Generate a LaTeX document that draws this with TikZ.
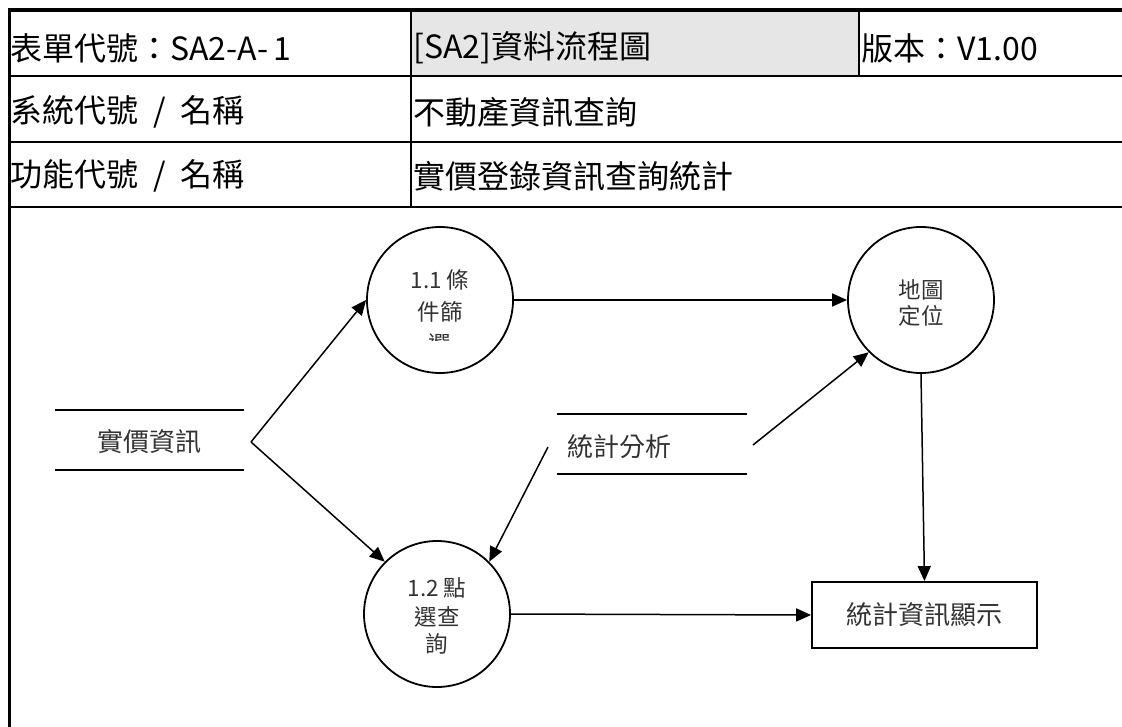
\documentclass[tikz,border=0pt]{standalone}
\usepackage{fontspec}
\setmainfont{Noto Sans CJK TC}
\usetikzlibrary{arrows.meta}
\definecolor{cellgrey}{HTML}{E6E6E6}
\definecolor{txtgrey}{HTML}{333333}
\tikzset{
  frame/.style={line width=2pt, black},
  hdr/.style={anchor=west, inner sep=0pt, font=\fontsize{32}{36}\selectfont, text=black},
  proc/.style={circle, draw, line width=1.8pt, minimum size=146pt, inner sep=0pt},
  ptext/.style={inner sep=0pt, font=\fontsize{22.5}{26}\selectfont, text=txtgrey},
  stext/.style={inner sep=0pt, font=\fontsize{26}{30}\selectfont, text=txtgrey},
  storeline/.style={line width=1.8pt},
  flow/.style={line width=1.5pt, -{Triangle[length=15pt,width=13pt]}},
  outbox/.style={draw, line width=1.8pt, minimum width=225pt, minimum height=66pt, inner sep=0pt, font=\fontsize{26}{30}\selectfont, text=txtgrey}
}
\begin{document}
\begin{tikzpicture}[x=1pt,y=-1pt]
\useasboundingbox (0,0) rectangle (1122,727);
% header table
\fill[cellgrey] (412,11) rectangle (858,75);
\draw[line width=3.5pt] (7.5,10) -- (1122,10);
\draw[line width=3pt] (9,8.5) -- (9,727);
\draw[frame] (9,76) -- (1122,76);
\draw[frame] (9,142) -- (1122,142);
\draw[frame] (9,207) -- (1122,207);
\draw[frame] (411,10) -- (411,207);
\draw[frame] (859,10) -- (859,76);
\node[hdr] (h1) at (10,48) {表單代號：SA2-A-\,1};
\node[hdr] (h2) at (413,48) {[SA2]資料流程圖};
\node[hdr] (h3) at (861,48) {版本：V1.00};
\node[hdr] (h4) at (10,112) {系統代號\hspace{15pt}/\hspace{15pt}名稱};
\node[hdr] (h5) at (413,112) {不動產資訊查詢};
\node[hdr] (h6) at (10,176) {功能代號\hspace{15pt}/\hspace{15pt}名稱};
\node[hdr] (h7) at (413,176) {實價登錄資訊查詢統計};
% processes
\node[proc] (c11) at (440,300) {};
\node[ptext] (t11a) at (440,280) {1.1 條};
\node[ptext] (t11b) at (440,312) {件篩};
\begin{scope}
\clip (380,300) rectangle (500,341);
\node[ptext] (t11c) at (440,344) {選};
\end{scope}
\node[proc] (c21) at (921,300) {};
\node[ptext] (t21a) at (921,290) {地圖};
\node[ptext] (t21b) at (921,316) {定位};
\node[proc] (c12) at (437,614) {};
\node[ptext] (t12a) at (437,588) {1.2 點};
\node[ptext] (t12b) at (437,617) {選查};
\node[ptext] (t12c) at (437,644) {詢};
% data stores
\draw[storeline] (55,410) -- (244,410);
\draw[storeline] (55,470) -- (244,470);
\node[stext] (s1) at (149,442) {實價資訊};
\coordinate (s1apex) at (251,442);
\draw[storeline] (557,414) -- (747,414);
\draw[storeline] (557,474) -- (747,474);
\node[stext, anchor=west] (s2) at (567,447) {統計分析};
\coordinate (s2left) at (548,447);
\coordinate (s2right) at (753,445);
% output box
\node[outbox] (box) at (924.5,615) {統計資訊顯示};
% flows
\draw[flow] (s1apex) -- (c11.west);
\draw[flow] (s1apex) -- (c12.135);
\draw[flow] (c11.east) -- (c21.west);
\draw[flow] (s2right) -- (c21.225);
\draw[flow] (s2left) -- (c12.45);
\draw[flow] (c21.south) -- (box.north);
\draw[flow] (c12.east) -- (box.west);
\end{tikzpicture}
\end{document}
